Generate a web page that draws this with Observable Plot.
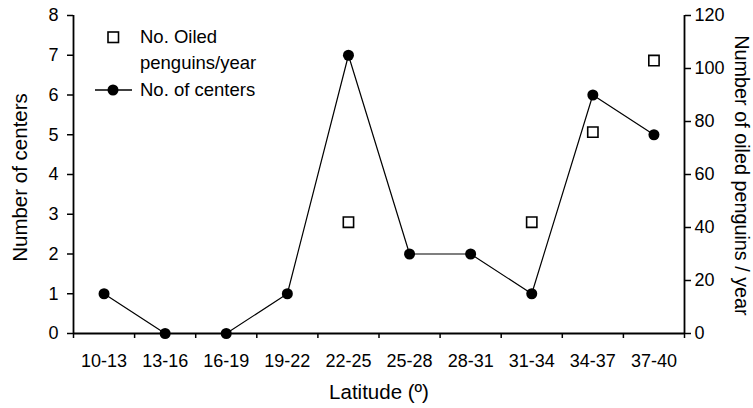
<!DOCTYPE html>
<html><head>
<meta charset="utf-8">
<script src="https://cdn.jsdelivr.net/npm/d3@7"></script>
<script src="https://cdn.jsdelivr.net/npm/@observablehq/plot@0.6"></script>
<style>
body{margin:0;background:#fff;}
#wrap{position:relative;width:753px;height:408px;font-family:"Liberation Sans",Arial,Helvetica,sans-serif;}
#legend{position:absolute;left:0;top:0;}
</style>
</head><body><div id="wrap"></div>
<script>
const latitudes = ["10-13","13-16","16-19","19-22","22-25","25-28","28-31","31-34","34-37","37-40"];
const centers = [1,0,0,1,7,2,2,1,6,5];
const oiledPenguins = [null,null,null,null,42,null,null,42,76,103];
const leftTicks = [0,1,2,3,4,5,6,7,8];
const rightTicks = [0,20,40,60,80,100,120];
const ratio = 15; // right axis units per left axis unit

const centerData = latitudes.map((lat,i)=>({lat, i: i+0.5, v: centers[i]}));
const oiledData = latitudes.map((lat,i)=>({lat, i: i+0.5, v: oiledPenguins[i]})).filter(d=>d.v!=null);

const font = "Liberation Sans, Arial, Helvetica, sans-serif";
const fs = 18;
const chart = Plot.plot({
  width: 753, height: 408,
  marginLeft: 73, marginRight: 69, marginTop: 15, marginBottom: 75,
  style: {fontFamily: font, fontSize: fs + "px", color: "#000", background: "#fff"},
  x: {domain: [0, latitudes.length]},
  y: {domain: [0, 8]},
  marks: [
    Plot.axisY({anchor: "left", ticks: leftTicks, tickSize: 6, tickPadding: 9, label: null, strokeWidth: 1.5, fontSize: fs}),
    Plot.axisY({anchor: "right", ticks: rightTicks.map(v=>v/ratio), tickFormat: d=>Math.round(d*ratio), tickSize: 6, tickPadding: 4, label: null, strokeWidth: 1.5, fontSize: fs}),
    Plot.axisX({ticks: d3.range(latitudes.length+1), tickFormat: ()=>"", tickSize: 5, label: null, strokeWidth: 1.5}),
    Plot.axisX({ticks: latitudes.map((d,i)=>i+0.5), tickFormat: d=>latitudes[Math.floor(d)], tickSize: 0, tickPadding: 21, label: null, fontSize: fs}),
    Plot.ruleX([0], {stroke: "#000", strokeWidth: 1.8}),
    Plot.ruleX([latitudes.length], {stroke: "#000", strokeWidth: 1.8}),
    Plot.ruleY([0], {stroke: "#000", strokeWidth: 1.8}),
    Plot.line(centerData, {x: "i", y: "v", stroke: "#000", strokeWidth: 1.2}),
    Plot.dot(centerData, {x: "i", y: "v", r: 5.5, fill: "#000", stroke: "none"}),
    Plot.dot(oiledData, {x: "i", y: d=>d.v/ratio, symbol: "square", r: 5.8, fill: "#fff", stroke: "#000", strokeWidth: 1.6}),
    Plot.text(["Latitude (º)"], {frameAnchor: "bottom", dy: 59, lineAnchor: "middle", textAnchor: "middle", fontSize: 20.5}),
    Plot.text(["Number of centers"], {frameAnchor: "left", dx: -53, dy: 3, rotate: -90, textAnchor: "middle", lineAnchor: "middle", fontSize: 20.5}),
    Plot.text(["Number of oiled penguins / year"], {frameAnchor: "right", dx: 57, dy: 1, rotate: 90, textAnchor: "middle", lineAnchor: "middle", fontSize: 19.8})
  ]
});
const wrap = document.getElementById("wrap");
wrap.appendChild(chart);

// Legend overlay
const lg = d3.select(wrap).append("svg").attr("id","legend").attr("width",753).attr("height",408)
  .style("font-family", font).style("font-size", "18.5px");
lg.append("rect").attr("x",108).attr("y",32).attr("width",10.5).attr("height",10.5)
  .attr("fill","#fff").attr("stroke","#000").attr("stroke-width",1.6);
lg.append("text").attr("x",140).attr("y",37).attr("dy","0.35em").text("No. Oiled");
lg.append("text").attr("x",140).attr("y",63).attr("dy","0.35em").text("penguins/year");
lg.append("line").attr("x1",95).attr("x2",132).attr("y1",90).attr("y2",90).attr("stroke","#000").attr("stroke-width",1.4);
lg.append("circle").attr("cx",113).attr("cy",90).attr("r",5.5).attr("fill","#000");
lg.append("text").attr("x",140).attr("y",90).attr("dy","0.35em").text("No. of centers");
</script>
</body></html>
